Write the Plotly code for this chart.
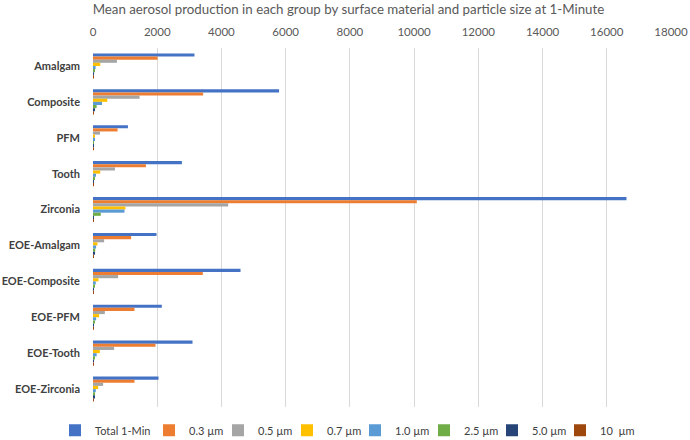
import plotly.graph_objects as go

categories = ["Amalgam", "Composite", "PFM", "Tooth", "Zirconia",
              "EOE-Amalgam", "EOE-Composite", "EOE-PFM", "EOE-Tooth", "EOE-Zirconia"]

series_names = ["Total 1-Min", "0.3 µm", "0.5 µm", "0.7 µm", "1.0 µm",
                "2.5 µm", "5.0 µm", "10\u00a0 µm"]

total_1min = [3160, 5795, 1088, 2768, 16614, 1978, 4594, 2143, 3099, 2040]
um_0_3 = [2010, 3430, 765, 1648, 10084, 1187, 3420, 1292, 1946, 1292]
um_0_5 = [745, 1450, 218, 684, 4210, 346, 782, 368, 658, 315]
um_0_7 = [227, 445, 55, 227, 1010, 140, 170, 190, 212, 160]
um_1_0 = [82, 280, 35, 93, 980, 97, 87, 97, 115, 87]
um_2_5 = [50, 112, 20, 40, 243, 70, 50, 55, 55, 55]
um_5_0 = [20, 40, 10, 15, 30, 35, 20, 20, 25, 40]
um_10 = [8, 10, 5, 6, 10, 10, 8, 8, 8, 10]

series_values = [total_1min, um_0_3, um_0_5, um_0_7, um_1_0, um_2_5, um_5_0, um_10]
colors = ["#4472C4", "#ED7D31", "#A5A5A5", "#FFC000", "#5B9BD5", "#70AD47", "#264478", "#9E480E"]

tick_vals = [0, 2000, 4000, 6000, 8000, 10000, 12000, 14000, 16000, 18000]

FONT = "Lato, 'Open Sans', sans-serif"

# legend entry left edges (pixels in the 690-wide page)
legend_left_px = [55, 149, 218, 287, 355, 424, 492, 560]

fig = go.Figure()
legend_layouts = {}
for i, (name, vals, col) in enumerate(zip(series_names, series_values, colors)):
    lg = "legend" if i == 0 else f"legend{i + 1}"
    fig.add_trace(go.Bar(
        y=categories, x=vals, name=name, orientation="h",
        marker=dict(color=col, line=dict(width=0)),
        legend=lg, showlegend=True,
    ))
    legend_layouts[lg] = dict(
        orientation="h", xref="container", x=legend_left_px[i] / 690, xanchor="left",
        yref="container", y=0.022, yanchor="middle",
        font=dict(size=11, color="#404040", family=FONT),
        itemwidth=30, bgcolor="rgba(0,0,0,0)", visible=True,
    )

fig.update_layout(
    width=690, height=440,
    showlegend=True,
    paper_bgcolor="white", plot_bgcolor="white",
    font=dict(family=FONT, color="#595959", size=11),
    barmode="group", bargap=0.3, bargroupgap=0,
    margin=dict(l=93, r=19, t=48, b=33, autoexpand=False),
    title=dict(
        text="Mean aerosol production in each group by surface material and particle size at 1-Minute",
        x=0.505, xanchor="center", xref="container",
        y=0.979, yanchor="middle", yref="container",
        font=dict(size=13.3, color="#595959", family=FONT),
    ),
    xaxis=dict(
        side="top", range=[0, 18000], tickvals=tick_vals,
        ticktext=[str(v) for v in tick_vals],
        showgrid=True, gridcolor="#D9D9D9", gridwidth=1,
        zeroline=False, showline=False, ticks="", automargin=False,
        ticklabelstandoff=9,
        tickfont=dict(size=11.5, color="#595959"),
    ),
    yaxis=dict(
        autorange="reversed", showgrid=False, zeroline=False,
        showline=False, ticks="", ticklabelstandoff=12, automargin=False,
        tickfont=dict(size=11, color="#404040", weight="bold"),
    ),
    **legend_layouts,
)

fig.write_html("out.html", config={"displayModeBar": False},
               post_script="document.body.style.margin='0';")
